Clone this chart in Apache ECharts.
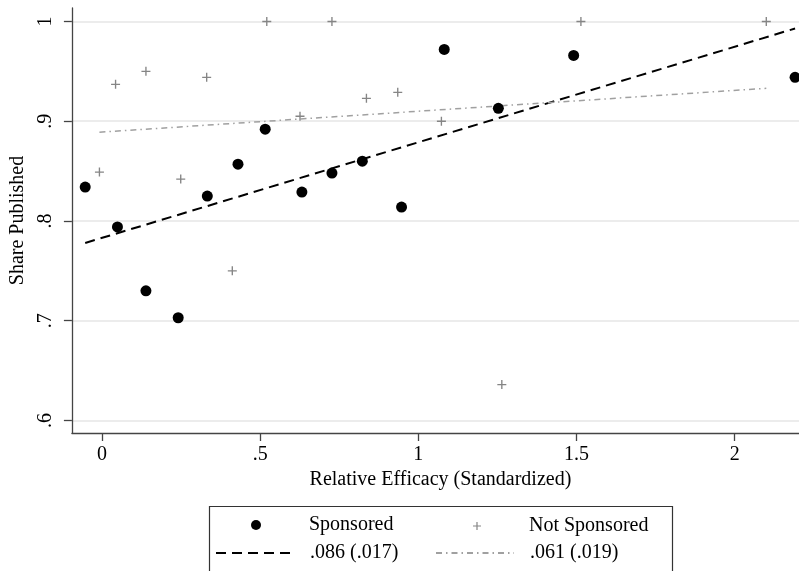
<!DOCTYPE html>
<html><head><meta charset="utf-8">
<script src="https://cdn.jsdelivr.net/npm/echarts@6/dist/echarts.min.js"></script>
<style>html,body{margin:0;padding:0;background:#fff}#c{width:799px;height:571px}</style>
</head><body><div id="c"></div>
<script>
// ---- data ----
const sponsoredX = [-0.053, 0.049, 0.139, 0.241, 0.333, 0.430, 0.516, 0.632, 0.727, 0.823, 0.947, 1.082, 1.253, 1.491, 2.191];
const sponsoredY = [0.834, 0.794, 0.730, 0.703, 0.825, 0.857, 0.892, 0.829, 0.848, 0.860, 0.814, 0.972, 0.913, 0.966, 0.944];
const notSponsoredX = [-0.008, 0.043, 0.139, 0.249, 0.331, 0.412, 0.521, 0.626, 0.727, 0.836, 0.935, 1.073, 1.264, 1.514, 2.100];
const notSponsoredY = [0.849, 0.937, 0.950, 0.842, 0.944, 0.750, 1.000, 0.905, 1.000, 0.923, 0.929, 0.900, 0.636, 1.000, 1.000];
const sponsoredFitX = [-0.053, 2.191];
const sponsoredFitY = [0.778, 0.993];
const notSponsoredFitX = [-0.008, 2.100];
const notSponsoredFitY = [0.889, 0.933];
const seriesNames = ['Sponsored', 'Not Sponsored', '.086 (.017)', '.061 (.019)'];
const xTickValues = [0, 0.5, 1, 1.5, 2];
const xTickLabels = ['0', '.5', '1', '1.5', '2'];
const yTickValues = [0.6, 0.7, 0.8, 0.9, 1];
const yTickLabels = ['.6', '.7', '.8', '.9', '1'];
const xTitle = 'Relative Efficacy (Standardized)';
const yTitle = 'Share Published';

const zip = (xs, ys) => xs.map((x, i) => [x, ys[i]]);
const lab = (vals, labs) => v => { const i = vals.findIndex(t => Math.abs(t - v) < 1e-9); return i >= 0 ? labs[i] : ''; };
const FONT = 'Liberation Serif';
const PLUS = 'path://M8.5,0H11.5V8.5H20V11.5H11.5V20H8.5V11.5H0V8.5H8.5Z';
const txt = {fontFamily: FONT, fontSize: 20, color: '#000'};
const axisCol = '#444';

const chart = echarts.init(document.getElementById('c'), null, {renderer: 'canvas'});
chart.setOption({
  animation: false,
  backgroundColor: '#fff',
  grid: {left: 69, right: 0, top: 8, bottom: 138, containLabel: false},
  xAxis: {
    type: 'value', min: -0.09504, max: 2.2034,
    axisLine: {show: true, onZero: false, lineStyle: {color: axisCol, width: 1.3}},
    axisTick: {show: true, length: 8, customValues: xTickValues, lineStyle: {color: axisCol, width: 1.3}},
    axisLabel: {customValues: xTickValues, formatter: lab(xTickValues, xTickLabels), margin: 12, ...txt},
    splitLine: {show: false},
    name: xTitle, nameLocation: 'middle', nameGap: 30, nameTextStyle: {...txt, padding: [0, 0, 0, 10]}
  },
  yAxis: {
    type: 'value', min: 0.58747, max: 1.01353,
    axisLine: {show: true, onZero: false, lineStyle: {color: axisCol, width: 1.3}},
    axisTick: {show: true, length: 8, customValues: yTickValues, lineStyle: {color: axisCol, width: 1.3}},
    axisLabel: {customValues: yTickValues, formatter: lab(yTickValues, yTickLabels), rotate: 90, margin: 16, ...txt},
    splitLine: {show: true, lineStyle: {color: '#e6e6e6', width: 1.5}},
    name: yTitle, nameLocation: 'middle', nameGap: 38, nameTextStyle: txt
  },
  legend: [
    {data: [seriesNames[0]], left: 251, top: 515, padding: 0, itemWidth: 10, itemHeight: 10, selectedMode: false,
     textStyle: {...txt, padding: [0, 0, 0, 43]}},
    {data: [seriesNames[2]], left: 215, top: 543, padding: 0, itemWidth: 75, itemHeight: 10, selectedMode: false,
     itemStyle: {opacity: 0}, textStyle: {...txt, padding: [0, 0, 0, 14]}},
    {data: [seriesNames[1]], left: 473, top: 516, padding: 0, itemWidth: 8, itemHeight: 8, selectedMode: false,
     textStyle: {...txt, padding: [0, 0, 0, 43]}},
    {data: [seriesNames[3]], left: 435, top: 543, padding: 0, itemWidth: 78, itemHeight: 10, selectedMode: false,
     itemStyle: {opacity: 0}, textStyle: {...txt, padding: [0, 0, 0, 11]}}
  ],
  graphic: [{
    type: 'rect', left: 207, top: 504, silent: true,
    shape: {width: 463, height: 100},
    style: {fill: 'none', stroke: '#333', lineWidth: 1.2}
  }],
  series: [
    {name: seriesNames[0], type: 'scatter', data: zip(sponsoredX, sponsoredY), symbol: 'circle', symbolSize: 11,
     itemStyle: {color: '#000', opacity: 1}, z: 3},
    {name: seriesNames[1], type: 'scatter', data: zip(notSponsoredX, notSponsoredY), symbol: PLUS, symbolSize: 9,
     itemStyle: {color: '#858585', opacity: 1}, z: 3},
    {name: seriesNames[2], type: 'line', data: zip(sponsoredFitX, sponsoredFitY), symbol: 'none', showSymbol: false,
     lineStyle: {color: '#000', width: 2, type: [10, 6]}, itemStyle: {color: '#000'}, z: 2},
    {name: seriesNames[3], type: 'line', data: zip(notSponsoredFitX, notSponsoredFitY), symbol: 'none', showSymbol: false,
     lineStyle: {color: '#a0a0a0', width: 1.5, type: [6, 4, 1.5, 4]}, itemStyle: {color: '#a0a0a0'}, z: 2}
  ]
});
</script></body></html>
